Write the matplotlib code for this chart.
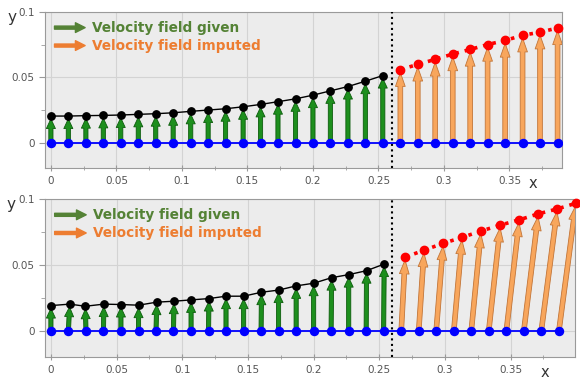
import matplotlib
matplotlib.use('Agg')
import matplotlib.pyplot as plt
from matplotlib.patches import FancyArrowPatch
from matplotlib.ticker import MultipleLocator

# grid positions (blue points on y=0)
x_given = [0, 0.0133, 0.0267, 0.04, 0.0533, 0.0667, 0.08, 0.0933, 0.1067, 0.12,
           0.1333, 0.1467, 0.16, 0.1733, 0.1867, 0.2, 0.2133, 0.2267, 0.24, 0.2533]
x_imputed = [0.2667, 0.28, 0.2933, 0.3067, 0.32, 0.3333, 0.3467, 0.36, 0.3733, 0.3867]

# top panel: displaced points
top_given_x = x_given
top_given_y = [0.0203, 0.0203, 0.0206, 0.0208, 0.0211, 0.0216, 0.0221, 0.0228, 0.0239, 0.0249,
               0.0259, 0.0274, 0.0292, 0.0313, 0.0335, 0.0363, 0.0396, 0.0429, 0.0470, 0.0513]
top_imp_x = x_imputed
top_imp_y = [0.0558, 0.0599, 0.0637, 0.0678, 0.0713, 0.0751, 0.0782, 0.0822, 0.0845, 0.0878]

# bottom panel: displaced points
bot_given_x = [0, 0.0143, 0.0262, 0.0403, 0.0533, 0.0667, 0.0806, 0.0937, 0.1067, 0.1203,
               0.1333, 0.1467, 0.1603, 0.1733, 0.1867, 0.2, 0.2137, 0.2267, 0.2403, 0.2537]
bot_given_y = [0.0194, 0.0205, 0.0189, 0.0205, 0.0202, 0.0197, 0.0220, 0.0227, 0.0237, 0.0247,
               0.0265, 0.0265, 0.0295, 0.0311, 0.0343, 0.0363, 0.0405, 0.0428, 0.0458, 0.0508]
bot_imp_x = [0.2697, 0.2841, 0.2987, 0.3131, 0.3275, 0.3422, 0.3566, 0.3711, 0.3855, 0.3997]
bot_imp_y = [0.0560, 0.0613, 0.0665, 0.0710, 0.0758, 0.0803, 0.0843, 0.0888, 0.0925, 0.0968]

split_x = 0.26

GREEN_FC, GREEN_EC = '#1d8f1d', '#0c5c0c'
ORANGE_FC, ORANGE_EC = '#f8a65c', '#c27538'


def arrow(ax, x0, y0, x1, y1, fc, ec, tail, head_w, head_l):
    style = 'simple,tail_width=%s,head_width=%s,head_length=%s' % (tail, head_w, head_l)
    a = FancyArrowPatch((x0, y0), (x1, y1), arrowstyle=style, mutation_scale=1,
                        fc=fc, ec=ec, lw=0.6, shrinkA=0, shrinkB=2.0, zorder=3)
    ax.add_patch(a)


def panel(ax, gx, gy, ix, iy, xmax):
    ax.set_facecolor('#ececec')
    ax.set_xlim(-0.0045, xmax)
    ax.set_ylim(-0.0195, 0.1)
    ax.xaxis.set_major_locator(MultipleLocator(0.05))
    ax.xaxis.set_minor_locator(MultipleLocator(0.025))
    ax.yaxis.set_major_locator(MultipleLocator(0.05))
    ax.yaxis.set_minor_locator(MultipleLocator(0.025))
    ax.set_xticks([0, 0.05, 0.1, 0.15, 0.2, 0.25, 0.3, 0.35])
    ax.set_xticklabels(['0', '0.05', '0.1', '0.15', '0.2', '0.25', '0.3', '0.35'])
    ax.set_yticks([0, 0.05, 0.1])
    ax.set_yticklabels(['0', '0.05', '0.1'])
    ax.grid(True, which='major', color='#d3d3d3', lw=0.8, zorder=0)
    ax.set_axisbelow(True)
    for s in ax.spines.values():
        s.set_color('#9a9a9a')
    ax.tick_params(which='both', colors='#9a9a9a', labelcolor='#555555', labelsize=7.5)
    ax.tick_params(axis='x', which='major', direction='inout', length=5)
    ax.tick_params(axis='x', which='minor', direction='inout', length=3)
    ax.tick_params(axis='y', which='major', direction='out', length=4)
    ax.tick_params(axis='y', which='minor', direction='out', length=3)

    # velocity arrows
    for x0, x1, y1 in zip(x_given, gx, gy):
        arrow(ax, x0, 0, x1, y1, GREEN_FC, GREEN_EC, 3.0, 6.5, 7)
    for x0, x1, y1 in zip(x_imputed, ix, iy):
        arrow(ax, x0, 0, x1, y1, ORANGE_FC, ORANGE_EC, 3.4, 7, 10)

    ax.plot(gx, gy, color='black', lw=1, marker='o', ms=5.3, zorder=4)
    ax.plot(ix, iy, color='red', lw=2.6, ls=':', marker='o', ms=6, zorder=4, clip_on=False)
    ax.plot(x_given + x_imputed, [0] * 30, color='blue', lw=1.3, marker='o', ms=5.8, zorder=5)
    ax.axvline(split_x, color='black', ls=':', lw=1.5, zorder=4)

    # legend
    ax.annotate('', xy=(0.083, 0.900), xytext=(0.013, 0.900), xycoords='axes fraction',
                arrowprops=dict(arrowstyle='simple,tail_width=2.2,head_width=7,head_length=7',
                                mutation_scale=1, fc='#548235', ec='#548235'))
    ax.annotate('', xy=(0.083, 0.785), xytext=(0.013, 0.785), xycoords='axes fraction',
                arrowprops=dict(arrowstyle='simple,tail_width=2.2,head_width=7,head_length=7',
                                mutation_scale=1, fc='#ed7d31', ec='#ed7d31'))
    ax.text(0.090, 0.900, 'Velocity field given', transform=ax.transAxes, color='#548235',
            fontsize=9.8, fontweight='bold', va='center')
    ax.text(0.090, 0.785, 'Velocity field imputed', transform=ax.transAxes, color='#ed7d31',
            fontsize=9.8, fontweight='bold', va='center')

    ax.text(0.944, -0.098, 'x', transform=ax.transAxes, fontsize=10.5, color='#333333',
            ha='center', va='center')
    ax.text(-0.064, 0.965, 'y', transform=ax.transAxes, fontsize=11, color='#333333',
            ha='center', va='center')


fig = plt.figure(figsize=(5.8, 3.79), dpi=100)
ax1 = fig.add_axes([0.0776, 0.5567, 0.8914, 0.4116])
ax2 = fig.add_axes([0.0776, 0.058, 0.9138, 0.4169])

panel(ax1, top_given_x, top_given_y, top_imp_x, top_imp_y, 0.3901)
panel(ax2, bot_given_x, bot_given_y, bot_imp_x, bot_imp_y, 0.399)

fig.savefig('out.png', dpi=100)
